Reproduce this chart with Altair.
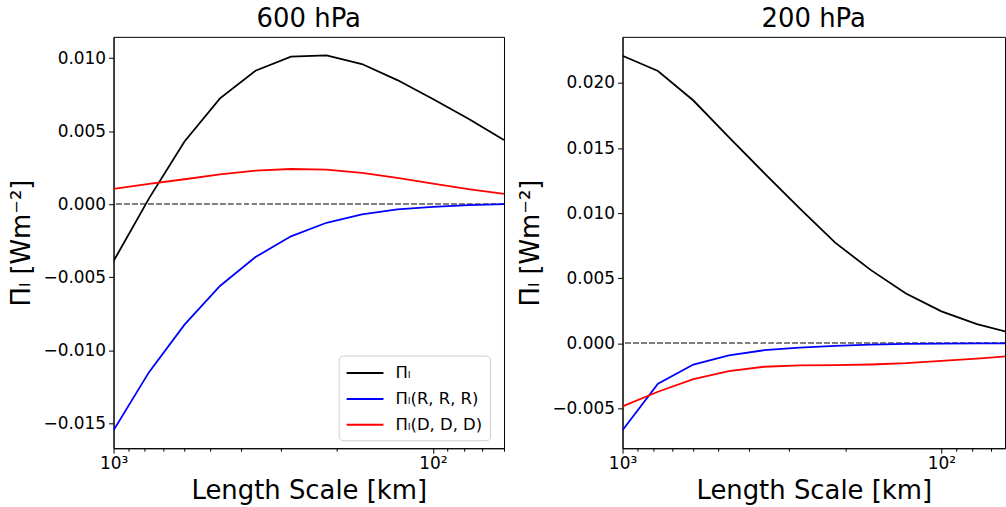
import altair as alt
import pandas as pd

# ---------------- data ----------------
length_km = [1000.0, 774.3, 599.5, 464.2, 359.4, 278.3, 215.4, 166.8, 129.2, 100.0, 77.4, 59.9]

series_labels = ["Πₗ", "Πₗ(R, R, R)", "Πₗ(D, D, D)"]
series_colors = ["#000000", "#0000ff", "#ff0000"]

p600_total = [-0.0039, 0.0004, 0.0043, 0.00725, 0.00914, 0.0101, 0.01019, 0.0096, 0.0085, 0.0072, 0.00585, 0.0044]
p600_rrr = [-0.01548, -0.0115, -0.00825, -0.0056, -0.00362, -0.0022, -0.00127, -0.0007, -0.00036, -0.00018, -0.00007, 0.0]
p600_ddd = [0.00105, 0.00139, 0.00171, 0.00205, 0.0023, 0.00241, 0.00237, 0.00214, 0.0018, 0.00141, 0.00104, 0.0007]

p200_total = [0.02209, 0.02092, 0.01865, 0.01584, 0.01308, 0.01036, 0.00773, 0.00564, 0.00383, 0.00245, 0.00148, 0.00077]
p200_rrr = [-0.00668, -0.0031, -0.00163, -0.00092, -0.00053, -0.00033, -0.0002, -0.0001, -0.00005, -0.00003, 0.0, 0.0]
p200_ddd = [-0.00484, -0.00372, -0.00275, -0.00214, -0.0018, -0.0017, -0.00168, -0.00163, -0.00153, -0.00135, -0.00117, -0.00097]

x_tick_values = [1000, 900, 800, 700, 600, 500, 400, 300, 200, 100, 90, 80, 70, 60]
y_ticks_600 = [-0.015, -0.010, -0.005, 0.0, 0.005, 0.010]
y_ticks_200 = [-0.005, 0.0, 0.005, 0.010, 0.015, 0.020]


def make_df(total, rrr, ddd):
    rows = []
    for label, vals in zip(series_labels, [total, rrr, ddd]):
        for i, (x, v) in enumerate(zip(length_km, vals)):
            rows.append({"L": x, "P": v, "series": label, "order": i})
    return pd.DataFrame(rows)


FONT = "DejaVu Sans"
Y_TITLE = "Πₗ [Wm⁻²]"

x_label_expr = "datum.value == 1000 ? '10³' : (datum.value == 100 ? '10²' : '')"
tick_size_cond = {"condition": {"test": "datum.value == 1000 || datum.value == 100", "value": 5}, "value": 3}


def panel(df, title, x_domain, width, y_domain, y_ticks, show_legend):
    x = alt.X(
        "L:Q",
        scale=alt.Scale(type="log", domain=x_domain, reverse=True, nice=False),
        axis=alt.Axis(
            title="Length Scale [km]",
            values=x_tick_values,
            labelExpr=x_label_expr,
            tickSize=tick_size_cond,
            grid=False,
            labelFontSize=17,
            titleFontSize=26,
            titleFontWeight="normal",
            labelColor="black",
            titleColor="black",
            tickColor="black",
            domainColor="black",
            labelPadding=2,
            titlePadding=6,
            labelFlush=False,
            labelOverlap=False,
        ),
    )
    y = alt.Y(
        "P:Q",
        scale=alt.Scale(domain=y_domain, nice=False, zero=False),
        axis=alt.Axis(
            title=Y_TITLE,
            values=y_ticks,
            format=".3f",
            grid=False,
            tickSize=5,
            labelFontSize=17,
            titleFontSize=26,
            titleFontWeight="normal",
            labelColor="black",
            titleColor="black",
            tickColor="black",
            domainColor="black",
            labelPadding=3,
            titlePadding=8,
        ),
    )
    if show_legend:
        legend = alt.Legend(
            title=None,
            orient="none",
            legendX=226,
            legendY=320,
            symbolType="M-2,0H2",
            symbolSize=342,
            symbolStrokeWidth=2,
            symbolOffset=9,
            labelFontSize=16.5,
            labelFont=FONT,
            labelColor="black",
            labelOffset=20,
            rowPadding=7,
            padding=7,
            strokeColor="#d0d0d0",
            fillColor="white",
            cornerRadius=4,
        )
    else:
        legend = None
    color = alt.Color(
        "series:N",
        scale=alt.Scale(domain=series_labels, range=series_colors),
        legend=legend,
        sort=series_labels,
    )
    zero = alt.Chart(df).mark_rule(color="#808080", strokeDash=[5, 3], strokeWidth=1).encode(
        y=alt.datum(0.0)
    )
    lines = alt.Chart(df).mark_line(strokeWidth=1.8, clip=True).encode(
        x=x, y=y, color=color, order="order:Q"
    )
    return alt.layer(zero, lines).properties(
        width=width,
        height=413,
        title=alt.Title(title, fontSize=26, fontWeight="normal", font=FONT, color="black", offset=5),
    )


left = panel(make_df(p600_total, p600_rrr, p600_ddd), "600 hPa", [59.9, 1000], 392,
             [-0.01671, 0.01146], y_ticks_600, True)
right = panel(make_df(p200_total, p200_rrr, p200_ddd), "200 hPa", [63.2, 1000], 384,
              [-0.00806, 0.02354], y_ticks_200, False)

chart = (
    alt.hconcat(left, right, spacing=12)
    .resolve_scale(color="independent", y="independent", x="independent")
    .properties(padding={"left": 8, "top": 4, "right": 0, "bottom": 0})
    .configure(font=FONT)
    .configure_view(stroke="black", strokeWidth=1)
    .configure_axis(domainWidth=1, tickWidth=1)
)

chart.save("out.html", embed_options={"renderer": "svg", "actions": False})
